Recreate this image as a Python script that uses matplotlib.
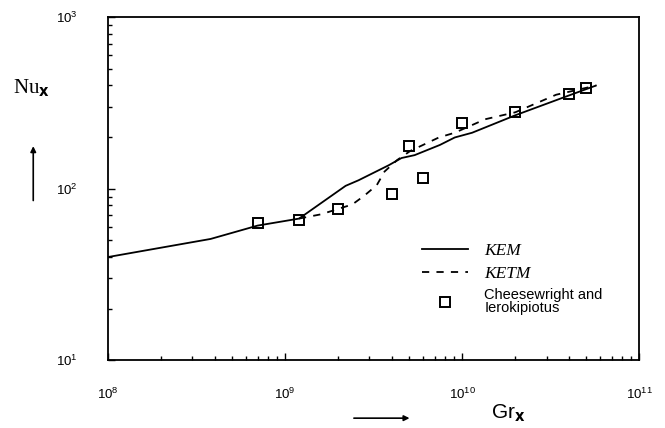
import matplotlib
matplotlib.use('Agg')
import matplotlib.pyplot as plt

# Experimental points (Cheesewright and Ierokipiotus)
gr_exp = [7e8, 1.2e9, 2e9, 4e9, 5e9, 6e9, 1e10, 2e10, 4e10, 5e10]
nu_exp = [63, 66, 76, 93, 178, 116, 240, 279, 358, 388]

# KEM prediction
kem_gr = [1e8, 3.8e8, 7e8, 1.2e9, 2.2e9, 2.6e9, 3.85e9, 4.55e9, 5.4e9,
          7.5e9, 9.1e9, 1.14e10, 2e10, 3.85e10, 5.7e10]
kem_nu = [40, 51, 61, 67, 104, 112, 137, 151, 157, 180, 199, 212, 268, 344, 399]

# KETM prediction
ketm_gr = [1.2e9, 1.6e9, 2.4e9, 2.8e9, 3.3e9, 3.65e9, 4.3e9, 5.1e9,
           7.4e9, 9.1e9, 1.35e10, 2e10, 3.4e10, 5.7e10]
ketm_nu = [67, 71, 81, 91, 105, 126, 147, 166, 199, 212, 254, 279, 353, 399]

plt.rcParams['font.family'] = ['Liberation Sans', 'DejaVu Sans']

fig = plt.figure(figsize=(6.65, 4.28), dpi=100)
ax = fig.add_axes([0.1624, 0.158, 0.7986, 0.802])

ax.plot(kem_gr, kem_nu, color='black', lw=1.3, label='KEM')
ax.plot(ketm_gr, ketm_nu, color='black', lw=1.3, linestyle=(0, (4, 4)), label='KETM')
ax.plot(gr_exp, nu_exp, linestyle='none', marker='s', markersize=7.5,
        markerfacecolor='none', markeredgecolor='black', markeredgewidth=1.4,
        label='Cheesewright and\nIerokipiotus')

ax.set_xscale('log')
ax.set_yscale('log')
ax.set_xlim(1e8, 1e11)
ax.set_ylim(10, 1000)

ax.tick_params(which='both', direction='in', top=False, right=False, width=1.0)
ax.tick_params(which='major', length=5, labelsize=9.5)
ax.tick_params(which='minor', length=3)
ax.tick_params(axis='x', which='major', pad=19)
ax.tick_params(axis='y', which='major', pad=22)

for spine in ax.spines.values():
    spine.set_linewidth(1.3)

# legend without frame, italic names for the models
leg = ax.legend(loc='upper left', bbox_to_anchor=(0.565, 0.383), frameon=False,
                handlelength=3.0, handletextpad=1.1, labelspacing=0.45,
                fontsize=11)
for txt in leg.get_texts()[:2]:
    txt.set_fontfamily('Liberation Serif')
    txt.set_fontstyle('italic')
    txt.set_fontsize(12.5)
leg.get_texts()[2].set_linespacing(0.88)
leg.get_texts()[2].set_fontsize(10.5)

# axis titles with direction arrows
fig.text(0.02, 0.795, r'Nu$_\mathbf{x}$', fontsize=15, family='Liberation Serif',
         ha='left', va='center')
fig.text(0.738, 0.035, r'Gr$_\mathbf{x}$', fontsize=15, ha='left', va='center')
ax.annotate('', xy=(0.050, 0.665), xytext=(0.050, 0.525), xycoords='figure fraction',
            arrowprops=dict(arrowstyle='-|>', color='black', lw=1.2, mutation_scale=8))
ax.annotate('', xy=(0.620, 0.023), xytext=(0.528, 0.023), xycoords='figure fraction',
            arrowprops=dict(arrowstyle='-|>', color='black', lw=1.2, mutation_scale=8))

fig.savefig('out.png', dpi=100)
plt.close(fig)
